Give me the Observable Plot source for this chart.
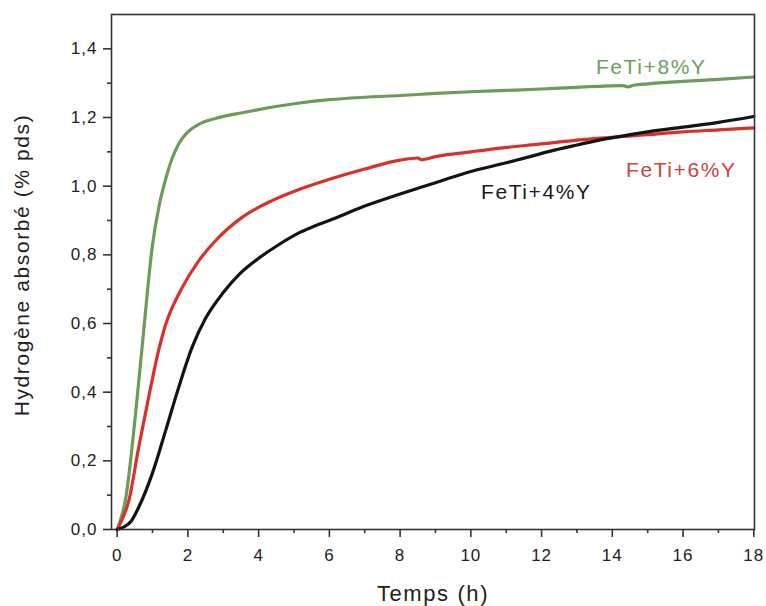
<!DOCTYPE html>
<html><head><meta charset="utf-8">
<script src="https://cdn.jsdelivr.net/npm/d3@7"></script>
<script src="https://cdn.jsdelivr.net/npm/@observablehq/plot@0.6"></script>
<style>body{margin:0;background:#fff}</style>
</head><body><div id="chart"></div>
<script>
// FeTi+8%Y (green)
const t8 = [0,0.1,0.23,0.52,0.75,0.99,1.2,1.37,1.55,1.75,2.0,2.3,2.8,3.5,4,5,6,7,8,9,10,11,12,13,14.3,14.45,14.6,15,16,17,18];
const v8 = [0,0.03,0.084,0.337,0.579,0.822,0.95,1.02,1.08,1.125,1.158,1.18,1.198,1.213,1.223,1.24,1.252,1.259,1.264,1.27,1.275,1.279,1.283,1.288,1.293,1.289,1.294,1.298,1.305,1.311,1.318];
// FeTi+6%Y (red)
const t6 = [0,0.1,0.33,0.61,0.89,1.18,1.35,1.51,1.84,2.31,2.78,3.53,4.38,5.18,6,7,8,8.5,8.6,9,10,10.84,12,13,13.66,15,16,17,18];
const v6 = [0,0.02,0.084,0.24,0.385,0.525,0.59,0.635,0.705,0.783,0.841,0.909,0.958,0.992,1.02,1.05,1.076,1.082,1.077,1.086,1.1,1.111,1.123,1.134,1.14,1.15,1.158,1.164,1.17];
// FeTi+4%Y (black)
const t4 = [0,0.2,0.4,0.61,0.99,1.37,1.74,2.12,2.5,3.0,3.5,4.0,4.5,5.18,5.6,6.12,7,8,9,9.9,11,11.78,12.25,13,13.66,14.5,15,16,17,18];
const v4 = [0,0.008,0.025,0.065,0.162,0.288,0.414,0.531,0.615,0.69,0.748,0.79,0.825,0.866,0.885,0.905,0.942,0.977,1.01,1.04,1.068,1.089,1.102,1.12,1.135,1.15,1.158,1.172,1.186,1.203];

const seriesNames = ["FeTi+8%Y", "FeTi+6%Y", "FeTi+4%Y"];
const seriesColors = ["#6b9c5a", "#d9302a", "#141414"];
const labelColors = ["#6e9e5e", "#c8463e", "#1a1a1a"];
const labelX = [15.1, 15.95, 11.85];
const labelY = [1.328, 1.026, 0.963];

const xMajor = [0,2,4,6,8,10,12,14,16,18];
const xMinor = [1,3,5,7,9,11,13,15,17];
const yMajor = [0,0.2,0.4,0.6,0.8,1.0,1.2,1.4];
const yMinor = [0.1,0.3,0.5,0.7,0.9,1.1,1.3];

const xTitle = "Temps (h)";
const yTitle = "Hydrogène absorbé (% pds)";

const rows = [];
[[t8, v8], [t6, v6], [t4, v4]].forEach(([ts, vs], k) => {
  ts.forEach((t, i) => rows.push({t, v: vs[i], s: seriesNames[k]}));
});

const fmt = d => d.toFixed(1).replace(".", ",");

const svg = Plot.plot({
  width: 766, height: 606,
  marginLeft: 111, marginRight: 12, marginTop: 14, marginBottom: 77,
  x: {domain: [-0.16, 18.02]},
  y: {domain: [0, 1.5]},
  color: {domain: seriesNames, range: seriesColors},
  style: {fontFamily: "'Liberation Sans', Arial, sans-serif", fontSize: "17px", color: "#222", background: "#fff"},
  marks: [
    Plot.line(rows, {x: "t", y: "v", z: "s", stroke: "s", strokeWidth: 3.2, curve: "monotone-x"}),
    Plot.frame({stroke: "#333", strokeWidth: 1.6}),
    Plot.axisX(xMajor, {tickSize: 8, tickPadding: 11, label: null, stroke: "#333", strokeWidth: 1.6, fontSize: 17, fill: "#222"}),
    Plot.axisX(xMinor, {tickSize: 4, label: null, stroke: "#333", strokeWidth: 1.6, tickFormat: () => ""}),
    Plot.axisY(yMajor, {tickSize: 8, tickPadding: 6, label: null, stroke: "#333", strokeWidth: 1.6, fontSize: 17, fill: "#222", tickFormat: fmt}),
    Plot.axisY(yMinor, {tickSize: 4, label: null, stroke: "#333", strokeWidth: 1.6, tickFormat: () => ""}),
    Plot.text(seriesNames, {x: (d, i) => labelX[i], y: (d, i) => labelY[i], text: d => d, fill: (d, i) => labelColors[i], fontSize: 21, lineAnchor: "bottom", textAnchor: "middle"}),
    Plot.text([xTitle], {frameAnchor: "bottom", dy: 71, lineAnchor: "bottom", textAnchor: "middle", fontSize: 22, fill: "#222"}),
    Plot.text([yTitle], {frameAnchor: "left", rotate: -90, dx: -83, dy: -7, lineAnchor: "bottom", textAnchor: "middle", fontSize: 21, fill: "#222"})
  ]
});

svg.querySelectorAll("text").forEach(el => {
  const g = el.closest("[font-size]");
  const fs = g ? parseFloat(g.getAttribute("font-size")) : 17;
  el.setAttribute("letter-spacing", fs >= 20 ? "1.6" : "1");
});
document.getElementById("chart").appendChild(svg);
</script>
</body></html>
